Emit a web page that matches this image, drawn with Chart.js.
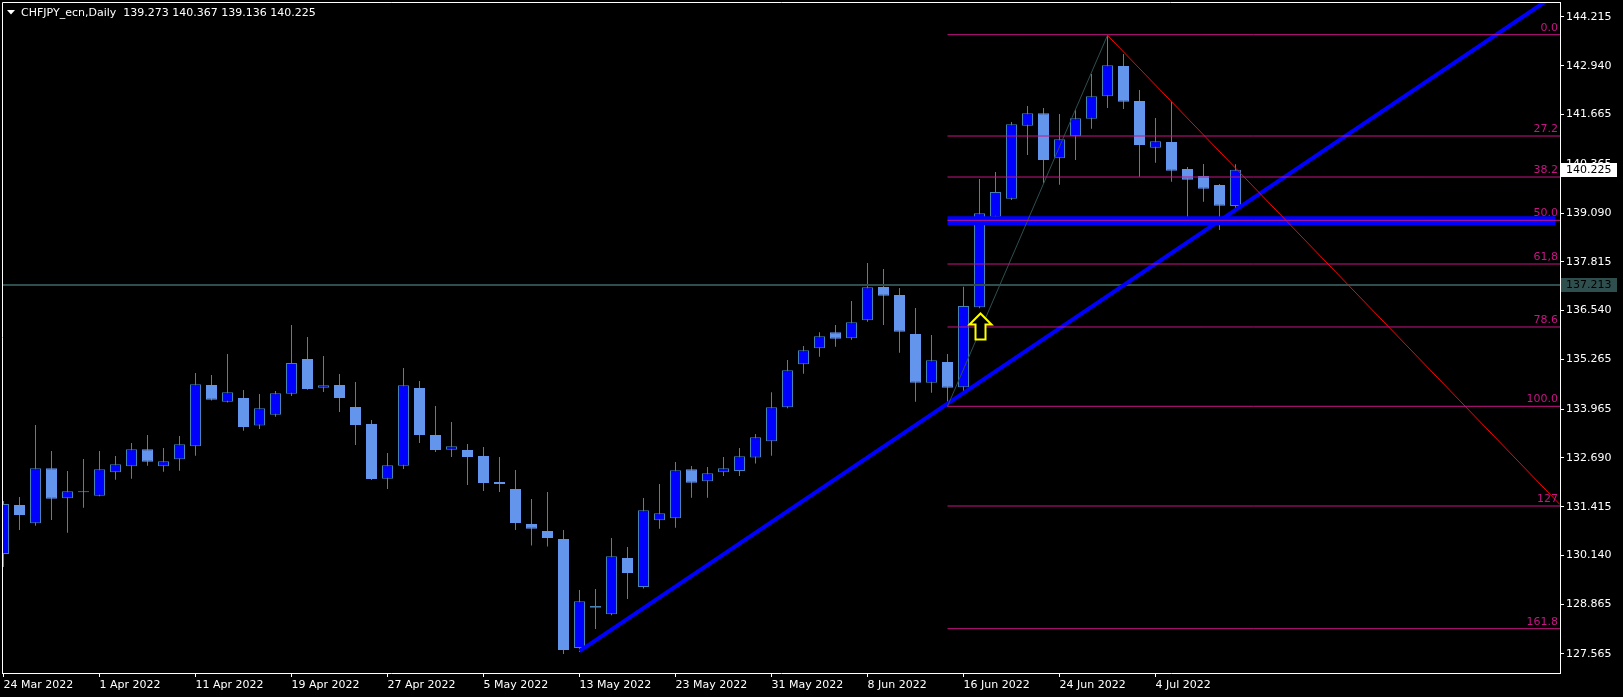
<!DOCTYPE html>
<html>
<head>
<meta charset="utf-8">
<script src="https://cdn.jsdelivr.net/npm/chart.js@4.4.1/dist/chart.umd.min.js"></script>
<style>
  html, body { margin: 0; background: #000; }
  canvas { display: block; background: #000; }
</style>
</head>
<body>
<canvas id="chart" width="1623" height="697"></canvas>
<script>
// CHFJPY daily candles, 24 Mar - 11 Jul 2022
const symbol = 'CHFJPY_ecn,Daily';

const dates = [
  '24 Mar 2022', '25 Mar 2022', '28 Mar 2022', '29 Mar 2022', '30 Mar 2022', '31 Mar 2022',
  '1 Apr 2022', '4 Apr 2022', '5 Apr 2022', '6 Apr 2022', '7 Apr 2022', '8 Apr 2022',
  '11 Apr 2022', '12 Apr 2022', '13 Apr 2022', '14 Apr 2022', '15 Apr 2022', '18 Apr 2022',
  '19 Apr 2022', '20 Apr 2022', '21 Apr 2022', '22 Apr 2022', '25 Apr 2022', '26 Apr 2022',
  '27 Apr 2022', '28 Apr 2022', '29 Apr 2022', '2 May 2022', '3 May 2022', '4 May 2022',
  '5 May 2022', '6 May 2022', '9 May 2022', '10 May 2022', '11 May 2022', '12 May 2022',
  '13 May 2022', '16 May 2022', '17 May 2022', '18 May 2022', '19 May 2022', '20 May 2022',
  '23 May 2022', '24 May 2022', '25 May 2022', '26 May 2022', '27 May 2022', '30 May 2022',
  '31 May 2022', '1 Jun 2022', '2 Jun 2022', '3 Jun 2022', '6 Jun 2022', '7 Jun 2022',
  '8 Jun 2022', '9 Jun 2022', '10 Jun 2022', '13 Jun 2022', '14 Jun 2022', '15 Jun 2022',
  '16 Jun 2022', '17 Jun 2022', '20 Jun 2022', '21 Jun 2022', '22 Jun 2022', '23 Jun 2022',
  '24 Jun 2022', '27 Jun 2022', '28 Jun 2022', '29 Jun 2022', '30 Jun 2022', '1 Jul 2022',
  '4 Jul 2022', '5 Jul 2022', '6 Jul 2022', '7 Jul 2022', '8 Jul 2022', '11 Jul 2022'
];

const opens = [
  130.179, 131.459, 130.981, 132.419, 131.635, 131.812, 131.703, 132.314, 132.471, 132.915,
  132.471, 132.654, 132.994, 134.597, 134.160, 134.256, 133.537, 133.820, 134.369, 135.276,
  134.527, 134.597, 134.021, 133.577, 132.147, 132.486, 134.518, 133.289, 132.905, 132.897,
  132.740, 132.061, 131.878, 130.963, 130.780, 130.571, 127.721, 128.775, 128.602, 130.074,
  129.315, 131.060, 131.112, 132.392, 132.079, 132.314, 132.348, 132.699, 133.124, 134.013,
  135.137, 135.555, 135.974, 135.817, 136.288, 137.156, 136.948, 135.929, 134.657, 135.198,
  134.535, 136.627, 138.995, 139.466, 141.373, 141.697, 140.522, 141.097, 141.556, 142.142,
  142.934, 142.019, 140.798, 140.947, 140.242, 140.059, 139.824, 139.273
];
const highs = [
  131.564, 131.669, 133.551, 132.871, 132.348, 132.662, 132.871, 132.740, 133.080, 133.289,
  132.949, 133.263, 134.910, 134.858, 135.407, 134.466, 134.361, 134.440, 136.165, 135.851,
  135.354, 134.884, 134.675, 133.681, 132.819, 135.041, 134.701, 134.047, 133.629, 133.054,
  132.976, 132.714, 132.374, 131.616, 131.799, 130.806, 129.238, 129.264, 130.597, 130.361,
  131.642, 132.008, 132.583, 132.479, 132.453, 132.714, 132.949, 133.315, 134.406, 135.250,
  135.616, 135.974, 136.165, 136.792, 137.784, 137.627, 137.130, 136.609, 135.903, 135.407,
  137.166, 139.980, 140.163, 141.470, 141.888, 141.836, 141.680, 141.802, 142.725, 143.736,
  143.248, 142.307, 141.575, 142.001, 140.294, 140.373, 139.850, 140.367
];
const lows = [
  129.838, 130.806, 130.919, 131.067, 130.735, 131.389, 131.690, 132.121, 132.147, 132.486,
  132.327, 132.353, 132.747, 134.190, 134.140, 133.402, 133.446, 133.768, 134.309, 134.470,
  134.414, 133.890, 133.028, 132.113, 131.878, 132.400, 133.080, 132.845, 132.714, 131.982,
  131.826, 131.799, 130.806, 130.400, 130.374, 127.564, 127.617, 128.218, 128.580, 129.002,
  129.278, 130.841, 130.866, 131.650, 131.650, 132.218, 132.218, 132.542, 132.747, 133.990,
  134.891, 135.335, 135.598, 135.780, 136.251, 136.165, 135.440, 134.160, 134.395, 134.040,
  134.378, 136.600, 138.909, 139.431, 140.607, 139.867, 139.831, 140.477, 141.295, 141.836,
  141.810, 140.040, 140.406, 139.910, 138.837, 139.387, 138.647, 139.136
];
const closes = [
  131.485, 131.198, 132.419, 131.624, 131.818, 131.795, 132.393, 132.523, 132.915, 132.591,
  132.602, 133.046, 134.615, 134.212, 134.406, 133.498, 133.987, 134.380, 135.171, 134.492,
  134.589, 134.256, 133.551, 132.139, 132.497, 134.589, 133.289, 132.897, 132.994, 132.714,
  132.035, 132.009, 130.989, 130.841, 130.597, 127.669, 128.942, 128.819, 130.119, 129.682,
  131.321, 131.243, 132.366, 132.042, 132.288, 132.419, 132.732, 133.228, 134.013, 134.981,
  135.503, 135.869, 135.807, 136.235, 137.148, 136.929, 135.989, 134.657, 135.242, 134.527,
  136.661, 139.082, 139.640, 141.410, 141.697, 140.477, 141.019, 141.567, 142.142, 142.952,
  142.001, 140.869, 140.966, 140.197, 139.962, 139.727, 139.283, 140.225
];

// price scale labels on the right
const priceTicks = [144.215, 142.940, 141.665, 140.365, 139.090, 137.815, 136.540,
  135.265, 133.965, 132.690, 131.415, 130.140, 128.865, 127.565];
// bars that carry a date label
const dateTicks = [0, 6, 12, 18, 24, 30, 36, 42, 48, 54, 60, 66, 72];

// fibonacci retracement drawn from the 15 Jun low to the 29 Jun high
const fibLabels = ['0.0', '27.2', '38.2', '50.0', '61,8', '78.6', '100.0', '127', '161.8'];
const fibPrices = [143.752, 141.104, 140.032, 138.900, 137.758, 136.112, 134.039, 131.433, 128.226];
const fibFrom = [59, 134.039];
const fibTo = [69, 143.736];

// other drawn objects
const levelLine = 137.213;
const zonePrice = 138.89;
const zoneFrom = 59, zoneTo = 97;
const trendLine = [[36, 127.64], [97.28, 144.875]];
const redLine = [[69, 143.736], [97.28, 131.47]];
const arrowBar = 61, arrowPrice = 136.48;

const xMin = -0.09375, xMax = 97.28125;
const yMin = 127.068, yMax = 144.607;

Chart.defaults.font.family = '"DejaVu Sans", sans-serif';
Chart.defaults.font.size = 11;

const bars = dates.map((d, i) => i);
const isUp = bars.map(i => closes[i] >= opens[i]);

function seg(p) { return p.map(q => ({ x: q[0], y: q[1] })); }
function lineSet(data, color, width, order) {
  return { type: 'line', data: data, borderColor: color, borderWidth: width, pointRadius: 0,
           fill: false, tension: 0, order: order };
}

const fibSets = fibPrices.map(p => lineSet([{ x: fibFrom[0], y: p }, { x: xMax, y: p }], '#C71585', 1, 2));

const decor = {
  id: 'decor',
  afterDatasetsDraw(chart) {
    const { ctx, chartArea: a, scales: { x, y } } = chart;
    ctx.save();
    // fib level texts
    ctx.font = '11px "DejaVu Sans"';
    ctx.fillStyle = '#C71585';
    ctx.textAlign = 'right';
    ctx.textBaseline = 'bottom';
    fibLabels.forEach((t, i) => ctx.fillText(t, a.right - 2, Math.round(y.getPixelForValue(fibPrices[i])) - 1));

    // buy arrow
    const cx = Math.round(x.getPixelForValue(arrowBar)) + 0.5;
    const ty = Math.round(y.getPixelForValue(arrowPrice)) + 0.5;
    ctx.beginPath();
    ctx.moveTo(cx, ty);
    ctx.lineTo(cx + 11, ty + 11);
    ctx.lineTo(cx + 5, ty + 11);
    ctx.lineTo(cx + 5, ty + 26);
    ctx.lineTo(cx - 5, ty + 26);
    ctx.lineTo(cx - 5, ty + 11);
    ctx.lineTo(cx - 11, ty + 11);
    ctx.closePath();
    ctx.fillStyle = '#000';
    ctx.fill();
    ctx.strokeStyle = '#FFFF00';
    ctx.lineWidth = 2;
    ctx.stroke();

    // frame left and top
    ctx.strokeStyle = '#fff';
    ctx.lineWidth = 1;
    ctx.beginPath();
    ctx.moveTo(2.5, a.bottom);
    ctx.lineTo(2.5, 2.5);
    ctx.lineTo(a.right, 2.5);
    ctx.stroke();
    ctx.restore();
  },
  afterDraw(chart) {
    const { ctx, chartArea: a, scales: { y } } = chart;
    const last = closes.length - 1;
    ctx.save();
    ctx.font = '11px "DejaVu Sans"';
    ctx.textBaseline = 'middle';
    ctx.textAlign = 'left';

    // price tags on the axis
    const tag = (price, bg, fg) => {
      const py = Math.round(y.getPixelForValue(price));
      ctx.fillStyle = bg;
      ctx.fillRect(a.right + 1, py - 7, 56, 14);
      ctx.fillStyle = fg;
      ctx.fillText(price.toFixed(3), a.right + 6, py);
    };
    tag(levelLine, '#2F4F4F', '#000');
    tag(closes[last], '#fff', '#000');

    // header
    ctx.fillStyle = '#fff';
    ctx.beginPath();
    ctx.moveTo(7, 10);
    ctx.lineTo(15, 10);
    ctx.lineTo(11, 14.5);
    ctx.closePath();
    ctx.fill();
    const head = symbol + '  ' + [opens[last], highs[last], lows[last], closes[last]].map(v => v.toFixed(3)).join(' ');
    ctx.fillText(head, 21, 13);
    ctx.restore();
  }
};

new Chart(document.getElementById('chart'), {
  type: 'bar',
  data: {
    datasets: [
      {
        label: 'wicks',
        data: bars.map(i => ({ x: i, y: [lows[i], highs[i]] })),
        backgroundColor: '#4682B4',
        borderWidth: 0,
        grouped: false,
        barPercentage: 1,
        maxBarThickness: 1,
        inflateAmount: 0,
        order: 10
      },
      {
        label: 'bodies',
        data: bars.map(i => ({ x: i, y: [opens[i], closes[i]] })),
        backgroundColor: bars.map(i => isUp[i] ? '#0000FF' : '#6495ED'),
        borderColor: bars.map(i => isUp[i] ? '#4682B4' : '#6495ED'),
        borderWidth: 1,
        borderSkipped: false,
        grouped: false,
        barPercentage: 1,
        maxBarThickness: 11,
        minBarLength: 1,
        inflateAmount: 0,
        order: 9
      },
      lineSet([{ x: zoneFrom, y: zonePrice }, { x: zoneTo, y: zonePrice }], '#0000FF', 9, 8),
      lineSet([{ x: xMin, y: levelLine }, { x: xMax, y: levelLine }], '#2F4F4F', 2, 7),
      lineSet(seg(trendLine), '#0000FF', 4, 6),
      lineSet(seg(redLine), '#FF0000', 1, 5),
      lineSet(seg([fibFrom, fibTo]), '#2F4F4F', 1, 4),
      ...fibSets
    ]
  },
  options: {
    responsive: false,
    devicePixelRatio: 1,
    animation: false,
    events: [],
    layout: { padding: { left: 2, top: 2, right: 0, bottom: 0 } },
    plugins: { legend: { display: false }, tooltip: { enabled: false } },
    scales: {
      x: {
        type: 'linear',
        min: xMin,
        max: xMax,
        offset: false,
        afterBuildTicks: s => { s.ticks = dateTicks.map(v => ({ value: v })); },
        afterFit: s => { s.height = 24; s.paddingLeft = 0; s.paddingRight = 0; },
        ticks: {
          callback: v => dates[v],
          align: 'start',
          autoSkip: false,
          maxRotation: 0,
          minRotation: 0,
          color: '#fff',
          padding: 2
        },
        grid: { drawOnChartArea: false, offset: false, color: '#fff', tickLength: 4 },
        border: { color: '#fff' }
      },
      y: {
        type: 'linear',
        position: 'right',
        min: yMin,
        max: yMax,
        afterBuildTicks: s => { s.ticks = priceTicks.map(v => ({ value: v })); },
        afterFit: s => { s.width = 63; s.paddingTop = 0; s.paddingBottom = 0; },
        ticks: {
          callback: v => v.toFixed(3),
          color: '#fff',
          padding: 2
        },
        grid: { drawOnChartArea: false, color: '#fff', tickLength: 4 },
        border: { color: '#fff' }
      }
    }
  },
  plugins: [decor]
});
</script>
</body>
</html>
